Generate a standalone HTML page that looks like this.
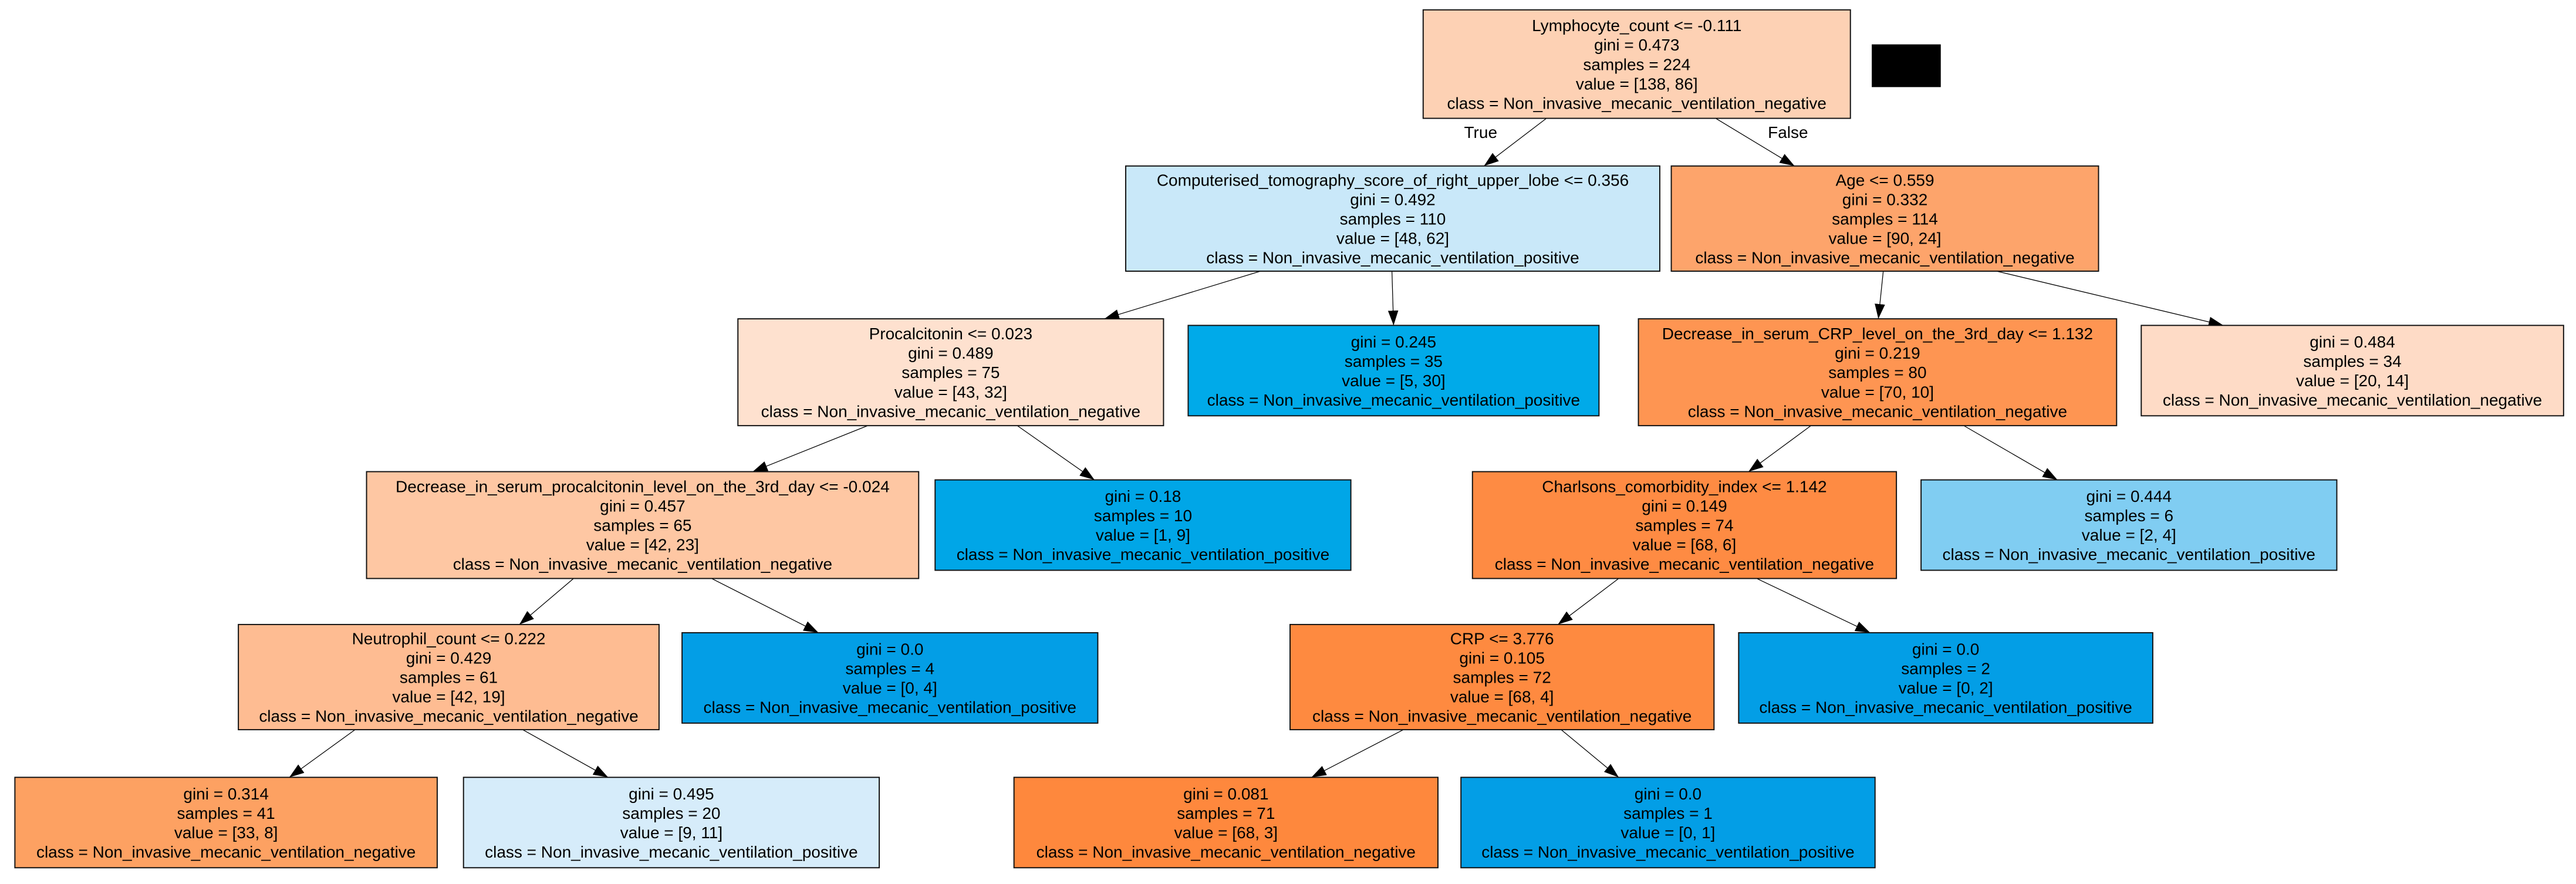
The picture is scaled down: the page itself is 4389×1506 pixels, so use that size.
<!DOCTYPE html>
<html><head><meta charset="utf-8"><style>
html,body{margin:0;padding:0;background:#fff;}
svg{display:block;}
text{font-family:"Liberation Sans",Arial,sans-serif;font-size:10px;fill:#000;text-anchor:middle;}
rect.n{stroke:#111;stroke-width:0.7;}
line{stroke:#000;stroke-width:0.45;}
</style></head><body>
<svg width="4389" height="1506" viewBox="0 0 1567.5 537.9" xmlns="http://www.w3.org/2000/svg">
<defs><marker id="a" viewBox="0 0 10 10" refX="10" refY="5" markerWidth="9" markerHeight="9" markerUnits="userSpaceOnUse" orient="auto"><path d="M0,1.5 L10,5 L0,8.5 z" fill="#000"/></marker></defs>
<g>
<line x1="941" y1="72" x2="903" y2="101" marker-end="url(#a)"/>
<line x1="1044" y1="72" x2="1092" y2="101" marker-end="url(#a)"/>
<line x1="767" y1="165" x2="672" y2="194" marker-end="url(#a)"/>
<line x1="847" y1="165" x2="848" y2="198" marker-end="url(#a)"/>
<line x1="1146" y1="165" x2="1143" y2="194" marker-end="url(#a)"/>
<line x1="1215" y1="165" x2="1353" y2="198" marker-end="url(#a)"/>
<line x1="528" y1="259" x2="458" y2="287" marker-end="url(#a)"/>
<line x1="619" y1="259" x2="666" y2="292" marker-end="url(#a)"/>
<line x1="1102" y1="259" x2="1064" y2="287" marker-end="url(#a)"/>
<line x1="1195" y1="259" x2="1252" y2="292" marker-end="url(#a)"/>
<line x1="349" y1="352" x2="316" y2="380" marker-end="url(#a)"/>
<line x1="433" y1="352" x2="498" y2="385" marker-end="url(#a)"/>
<line x1="985" y1="352" x2="948" y2="380" marker-end="url(#a)"/>
<line x1="1069" y1="352" x2="1138" y2="385" marker-end="url(#a)"/>
<line x1="216" y1="444" x2="176" y2="473" marker-end="url(#a)"/>
<line x1="318" y1="444" x2="370" y2="473" marker-end="url(#a)"/>
<line x1="854" y1="444" x2="798" y2="473" marker-end="url(#a)"/>
<line x1="950" y1="444" x2="985" y2="473" marker-end="url(#a)"/>
</g>
<text x="901" y="84">True</text>
<text x="1088" y="84">False</text>
<rect x="1139" y="27" width="42" height="26" fill="#000"/>

<rect class="n" x="866" y="6" width="260" height="66" fill="#fdd1b4"/>
<text x="996" y="19">Lymphocyte_count &lt;= -0.111<tspan x="996" dy="11.8">gini = 0.473</tspan><tspan x="996" dy="11.8">samples = 224</tspan><tspan x="996" dy="11.8">value = [138, 86]</tspan><tspan x="996" dy="11.8">class = Non_invasive_mecanic_ventilation_negative</tspan></text>

<rect class="n" x="685" y="101" width="325" height="64" fill="#c9e8f9"/>
<text x="847.5" y="113">Computerised_tomography_score_of_right_upper_lobe &lt;= 0.356<tspan x="847.5" dy="11.8">gini = 0.492</tspan><tspan x="847.5" dy="11.8">samples = 110</tspan><tspan x="847.5" dy="11.8">value = [48, 62]</tspan><tspan x="847.5" dy="11.8">class = Non_invasive_mecanic_ventilation_positive</tspan></text>

<rect class="n" x="1017" y="101" width="260" height="64" fill="#fda46b"/>
<text x="1147" y="113">Age &lt;= 0.559<tspan x="1147" dy="11.8">gini = 0.332</tspan><tspan x="1147" dy="11.8">samples = 114</tspan><tspan x="1147" dy="11.8">value = [90, 24]</tspan><tspan x="1147" dy="11.8">class = Non_invasive_mecanic_ventilation_negative</tspan></text>

<rect class="n" x="449" y="194" width="259" height="65" fill="#fee1cf"/>
<text x="578.5" y="206.5">Procalcitonin &lt;= 0.023<tspan x="578.5" dy="11.8">gini = 0.489</tspan><tspan x="578.5" dy="11.8">samples = 75</tspan><tspan x="578.5" dy="11.8">value = [43, 32]</tspan><tspan x="578.5" dy="11.8">class = Non_invasive_mecanic_ventilation_negative</tspan></text>

<rect class="n" x="723" y="198" width="250" height="55" fill="#00aae9"/>
<text x="848" y="211.4">gini = 0.245<tspan x="848" dy="11.8">samples = 35</tspan><tspan x="848" dy="11.8">value = [5, 30]</tspan><tspan x="848" dy="11.8">class = Non_invasive_mecanic_ventilation_positive</tspan></text>

<rect class="n" x="997" y="194" width="291" height="65" fill="#fe9552"/>
<text x="1142.5" y="206.5">Decrease_in_serum_CRP_level_on_the_3rd_day &lt;= 1.132<tspan x="1142.5" dy="11.8">gini = 0.219</tspan><tspan x="1142.5" dy="11.8">samples = 80</tspan><tspan x="1142.5" dy="11.8">value = [70, 10]</tspan><tspan x="1142.5" dy="11.8">class = Non_invasive_mecanic_ventilation_negative</tspan></text>

<rect class="n" x="1303" y="198" width="257" height="55" fill="#fedbc6"/>
<text x="1431.5" y="211.4">gini = 0.484<tspan x="1431.5" dy="11.8">samples = 34</tspan><tspan x="1431.5" dy="11.8">value = [20, 14]</tspan><tspan x="1431.5" dy="11.8">class = Non_invasive_mecanic_ventilation_negative</tspan></text>

<rect class="n" x="223" y="287" width="336" height="65" fill="#fec7a3"/>
<text x="391" y="299.5">Decrease_in_serum_procalcitonin_level_on_the_3rd_day &lt;= -0.024<tspan x="391" dy="11.8">gini = 0.457</tspan><tspan x="391" dy="11.8">samples = 65</tspan><tspan x="391" dy="11.8">value = [42, 23]</tspan><tspan x="391" dy="11.8">class = Non_invasive_mecanic_ventilation_negative</tspan></text>

<rect class="n" x="569" y="292" width="253" height="55" fill="#00a6e7"/>
<text x="695.5" y="305.4">gini = 0.18<tspan x="695.5" dy="11.8">samples = 10</tspan><tspan x="695.5" dy="11.8">value = [1, 9]</tspan><tspan x="695.5" dy="11.8">class = Non_invasive_mecanic_ventilation_positive</tspan></text>

<rect class="n" x="896" y="287" width="258" height="65" fill="#fe8b43"/>
<text x="1025" y="299.5">Charlsons_comorbidity_index &lt;= 1.142<tspan x="1025" dy="11.8">gini = 0.149</tspan><tspan x="1025" dy="11.8">samples = 74</tspan><tspan x="1025" dy="11.8">value = [68, 6]</tspan><tspan x="1025" dy="11.8">class = Non_invasive_mecanic_ventilation_negative</tspan></text>

<rect class="n" x="1169" y="292" width="253" height="55" fill="#80cdf2"/>
<text x="1295.5" y="305.4">gini = 0.444<tspan x="1295.5" dy="11.8">samples = 6</tspan><tspan x="1295.5" dy="11.8">value = [2, 4]</tspan><tspan x="1295.5" dy="11.8">class = Non_invasive_mecanic_ventilation_positive</tspan></text>

<rect class="n" x="145" y="380" width="256" height="64" fill="#febc92"/>
<text x="273" y="392">Neutrophil_count &lt;= 0.222<tspan x="273" dy="11.8">gini = 0.429</tspan><tspan x="273" dy="11.8">samples = 61</tspan><tspan x="273" dy="11.8">value = [42, 19]</tspan><tspan x="273" dy="11.8">class = Non_invasive_mecanic_ventilation_negative</tspan></text>

<rect class="n" x="415" y="385" width="253" height="55" fill="#039ee6"/>
<text x="541.5" y="398.4">gini = 0.0<tspan x="541.5" dy="11.8">samples = 4</tspan><tspan x="541.5" dy="11.8">value = [0, 4]</tspan><tspan x="541.5" dy="11.8">class = Non_invasive_mecanic_ventilation_positive</tspan></text>

<rect class="n" x="785" y="380" width="258" height="64" fill="#fe8a40"/>
<text x="914" y="392">CRP &lt;= 3.776<tspan x="914" dy="11.8">gini = 0.105</tspan><tspan x="914" dy="11.8">samples = 72</tspan><tspan x="914" dy="11.8">value = [68, 4]</tspan><tspan x="914" dy="11.8">class = Non_invasive_mecanic_ventilation_negative</tspan></text>

<rect class="n" x="1058" y="385" width="252" height="55" fill="#039ee6"/>
<text x="1184" y="398.4">gini = 0.0<tspan x="1184" dy="11.8">samples = 2</tspan><tspan x="1184" dy="11.8">value = [0, 2]</tspan><tspan x="1184" dy="11.8">class = Non_invasive_mecanic_ventilation_positive</tspan></text>

<rect class="n" x="9" y="473" width="257" height="55" fill="#fda162"/>
<text x="137.5" y="486.4">gini = 0.314<tspan x="137.5" dy="11.8">samples = 41</tspan><tspan x="137.5" dy="11.8">value = [33, 8]</tspan><tspan x="137.5" dy="11.8">class = Non_invasive_mecanic_ventilation_negative</tspan></text>

<rect class="n" x="282" y="473" width="253" height="55" fill="#d6ecfa"/>
<text x="408.5" y="486.4">gini = 0.495<tspan x="408.5" dy="11.8">samples = 20</tspan><tspan x="408.5" dy="11.8">value = [9, 11]</tspan><tspan x="408.5" dy="11.8">class = Non_invasive_mecanic_ventilation_positive</tspan></text>

<rect class="n" x="617" y="473" width="258" height="55" fill="#fe883d"/>
<text x="746" y="486.4">gini = 0.081<tspan x="746" dy="11.8">samples = 71</tspan><tspan x="746" dy="11.8">value = [68, 3]</tspan><tspan x="746" dy="11.8">class = Non_invasive_mecanic_ventilation_negative</tspan></text>

<rect class="n" x="889" y="473" width="252" height="55" fill="#039ee6"/>
<text x="1015" y="486.4">gini = 0.0<tspan x="1015" dy="11.8">samples = 1</tspan><tspan x="1015" dy="11.8">value = [0, 1]</tspan><tspan x="1015" dy="11.8">class = Non_invasive_mecanic_ventilation_positive</tspan></text>
</svg>
</body></html>
